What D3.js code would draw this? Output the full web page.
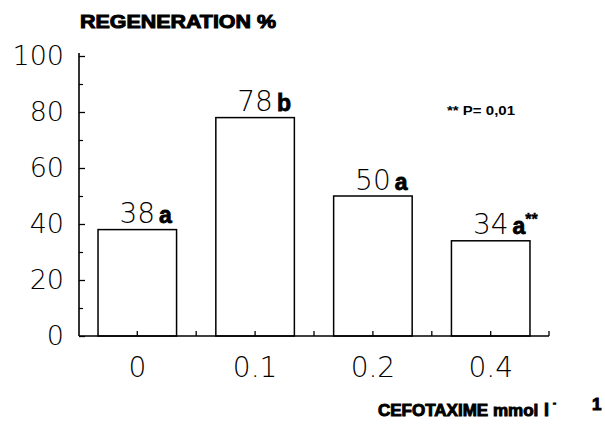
<!DOCTYPE html>
<html>
<head>
<meta charset="utf-8">
<script src="https://cdn.jsdelivr.net/npm/d3@7"></script>
<style>
  html, body { margin: 0; padding: 0; background: #fff; }
  svg { display: block; }
</style>
</head>
<body>
<svg id="chart" width="605" height="431"></svg>
<script>
const categories = ["0", "0.1", "0.2", "0.4"];
const values = [38, 78, 50, 34];
const letters = ["a", "b", "a", "a"];
const marks = ["", "", "", "**"];
const yTicks = [0, 20, 40, 60, 80, 100];
const yMinorTicks = [10, 30, 50, 70, 90];

const svg = d3.select("#chart");
const x0 = 79, x1 = 549, yBase = 336, yTop = 56;

const x = d3.scaleBand().domain(categories).range([x0, x1])
  .paddingInner(1/3).paddingOuter(0.1615).align(0.5);
const y = d3.scaleLinear().domain([0, 100]).range([yBase, yTop]);

const numFont = "'DejaVu Sans', sans-serif";
const boldFont = "'Liberation Sans', Arial, sans-serif";

// bars
svg.append("g").selectAll("rect").data(values).join("rect")
  .attr("x", (d, i) => x(categories[i]))
  .attr("y", d => y(d))
  .attr("width", x.bandwidth())
  .attr("height", d => y(0) - y(d))
  .attr("fill", "#fff").attr("stroke", "#000").attr("stroke-width", 1.5);

// y axis
const yAxis = svg.append("g").attr("transform", `translate(${x0},0)`)
  .call(d3.axisRight(y).tickValues(yTicks).tickSize(6).tickFormat(""));
yAxis.select(".domain").remove();
yAxis.selectAll("line").attr("stroke", "#000").attr("stroke-width", 1.3);
const yMinor = svg.append("g").attr("transform", `translate(${x0},0)`)
  .call(d3.axisRight(y).tickValues(yMinorTicks).tickSize(4).tickFormat(""));
yMinor.select(".domain").remove();
yMinor.selectAll("line").attr("stroke", "#000").attr("stroke-width", 1.2);
svg.append("line").attr("x1", x0).attr("x2", x0).attr("y1", y(100) - 3).attr("y2", y(0))
  .attr("stroke", "#000").attr("stroke-width", 1.6);

// y tick labels
svg.append("g").selectAll("text").data(yTicks).join("text")
  .attr("x", 64).attr("y", d => y(d) - 1)
  .attr("text-anchor", "end").attr("dominant-baseline", "central")
  .attr("font-family", numFont).attr("font-weight", 200).attr("font-size", 27)
  .attr("fill", "#000").text(d => d);

// x axis
svg.append("line").attr("x1", x0).attr("x2", x1).attr("y1", yBase).attr("y2", yBase)
  .attr("stroke", "#000").attr("stroke-width", 1.6);
const xTickPos = [];
categories.forEach((c, i) => {
  xTickPos.push(x(c) + x.bandwidth() / 2);
  if (i < categories.length - 1) xTickPos.push((x(c) + x.bandwidth() + x(categories[i + 1])) / 2);
});
xTickPos.push(x1);
svg.append("g").selectAll("line").data(xTickPos).join("line")
  .attr("x1", d => d).attr("x2", d => d).attr("y1", yBase).attr("y2", yBase - 5)
  .attr("stroke", "#000").attr("stroke-width", 1.3);

// x tick labels
svg.append("g").selectAll("text").data(categories).join("text")
  .attr("x", d => x(d) + x.bandwidth() / 2).attr("y", 367)
  .attr("text-anchor", "middle").attr("dominant-baseline", "central")
  .attr("font-family", numFont).attr("font-weight", 200).attr("font-size", 28)
  .attr("fill", "#000").text(d => d);

// value labels
values.forEach((v, i) => {
  const cx = x(categories[i]) + x.bandwidth() / 2;
  const by = y(v) - 6.5;
  const t = svg.append("text").attr("x", cx).attr("y", by)
    .attr("text-anchor", "middle")
    .attr("font-family", numFont).attr("font-weight", 200).attr("font-size", 28)
    .attr("fill", "#000").text(v);
  const w = t.node().getComputedTextLength();
  const lt = svg.append("text").attr("x", cx + w / 2 + 4).attr("y", by)
    .attr("font-family", boldFont).attr("font-weight", "bold").attr("font-size", 23)
    .attr("stroke", "#000").attr("stroke-width", 0.8)
    .attr("fill", "#000").text(letters[i]);
  if (marks[i]) {
    const lw = lt.node().getComputedTextLength();
    svg.append("text").attr("x", cx + w / 2 + 4 + lw).attr("y", by - 9)
      .attr("font-family", boldFont).attr("font-weight", "bold").attr("font-size", 16)
      .attr("stroke", "#000").attr("stroke-width", 0.4)
      .attr("fill", "#000").text(marks[i]);
  }
});

// titles
svg.append("text").attr("x", 80).attr("y", 27.5)
  .attr("font-family", boldFont).attr("font-weight", "bold").attr("font-size", 19)
  .attr("stroke", "#000").attr("stroke-width", 1)
  .attr("textLength", 196).attr("lengthAdjust", "spacingAndGlyphs")
  .attr("fill", "#000").text("REGENERATION %");

svg.append("text").attr("x", 447).attr("y", 114.5)
  .attr("font-family", boldFont).attr("font-weight", "bold").attr("font-size", 13)
  .attr("textLength", 68).attr("lengthAdjust", "spacingAndGlyphs")
  .attr("fill", "#000").text("** P= 0,01");

const xtAttrs = sel => sel.attr("font-family", boldFont).attr("font-weight", "bold")
  .attr("stroke", "#000").attr("stroke-width", 1).attr("fill", "#000");
svg.append("text").attr("x", 378).attr("y", 415.5).attr("font-size", 17)
  .call(xtAttrs).text("CEFOTAXIME mmol");
svg.append("text").attr("x", 544).attr("y", 415.5).attr("font-size", 18)
  .call(xtAttrs).text("l");
svg.append("text").attr("x", 553).attr("y", 406).attr("font-size", 9)
  .call(xtAttrs).text("-");
svg.append("text").attr("x", 592).attr("y", 410).attr("font-size", 17)
  .call(xtAttrs).text("1");
</script>
</body>
</html>
